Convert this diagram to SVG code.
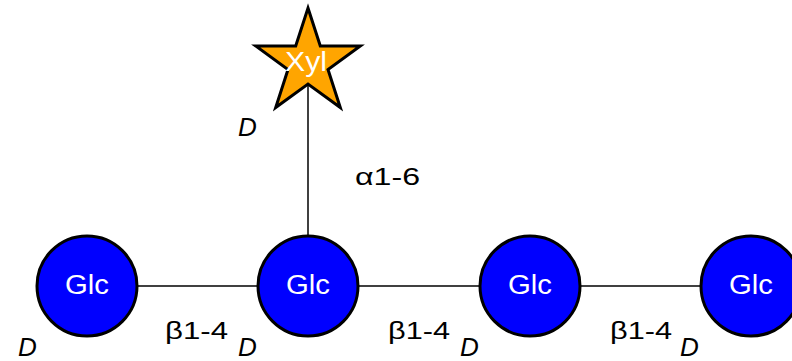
<svg xmlns="http://www.w3.org/2000/svg" width="792" height="361" viewBox="0 0 792 361">
<style>
.edge{stroke:#000;stroke-width:1.5;fill:none}
.glc{fill:#0000ff;stroke:#000;stroke-width:3}
.star{fill:#ffa500;stroke:#000;stroke-width:3;stroke-linejoin:miter}
.wt{fill:#fff;font-family:"Liberation Sans",Arial,sans-serif;font-size:27px;text-anchor:middle}
.lbl{fill:#000;font-family:"Liberation Sans",Arial,sans-serif;font-size:24px}
.d{fill:#000;font-family:"Liberation Sans",Arial,sans-serif;font-size:26px;font-style:italic}
</style>
<rect width="792" height="361" fill="#fff"/>
<g id="connectors">
<line class="edge" x1="87" y1="286" x2="751" y2="286"/>
<line class="edge" x1="308" y1="63" x2="308" y2="286"/>
<text class="lbl" x="355" y="185" textLength="65" lengthAdjust="spacingAndGlyphs">α1-6</text>
<text class="lbl" x="165" y="339" textLength="63" lengthAdjust="spacingAndGlyphs">β1-4</text>
<text class="lbl" x="388" y="339" textLength="62" lengthAdjust="spacingAndGlyphs">β1-4</text>
<text class="lbl" x="610" y="339" textLength="62" lengthAdjust="spacingAndGlyphs">β1-4</text>
</g>
<g id="xyl">
<polygon class="star" points="308,8 320.3,46 360.3,46 328,69.5 340.3,107.5 308,84 275.7,107.5 288,69.5 255.7,46 295.7,46"/>
<text class="wt" x="306" y="71" font-size="25" textLength="42" lengthAdjust="spacingAndGlyphs">Xyl</text>
<text class="d" x="238" y="136">D</text>
</g>
<g id="glc1">
<circle class="glc" cx="87" cy="286" r="50"/>
<text class="wt" x="87" y="294" textLength="44" lengthAdjust="spacingAndGlyphs">Glc</text>
<text class="d" x="18" y="356">D</text>
</g>
<g id="glc2">
<circle class="glc" cx="308" cy="286" r="50"/>
<text class="wt" x="308" y="294" textLength="44" lengthAdjust="spacingAndGlyphs">Glc</text>
<text class="d" x="238" y="356">D</text>
</g>
<g id="glc3">
<circle class="glc" cx="530" cy="286" r="50"/>
<text class="wt" x="530" y="294" textLength="44" lengthAdjust="spacingAndGlyphs">Glc</text>
<text class="d" x="460" y="356">D</text>
</g>
<g id="glc4">
<circle class="glc" cx="751" cy="286" r="50"/>
<text class="wt" x="751" y="294" textLength="44" lengthAdjust="spacingAndGlyphs">Glc</text>
<text class="d" x="680" y="356">D</text>
</g>
</svg>
